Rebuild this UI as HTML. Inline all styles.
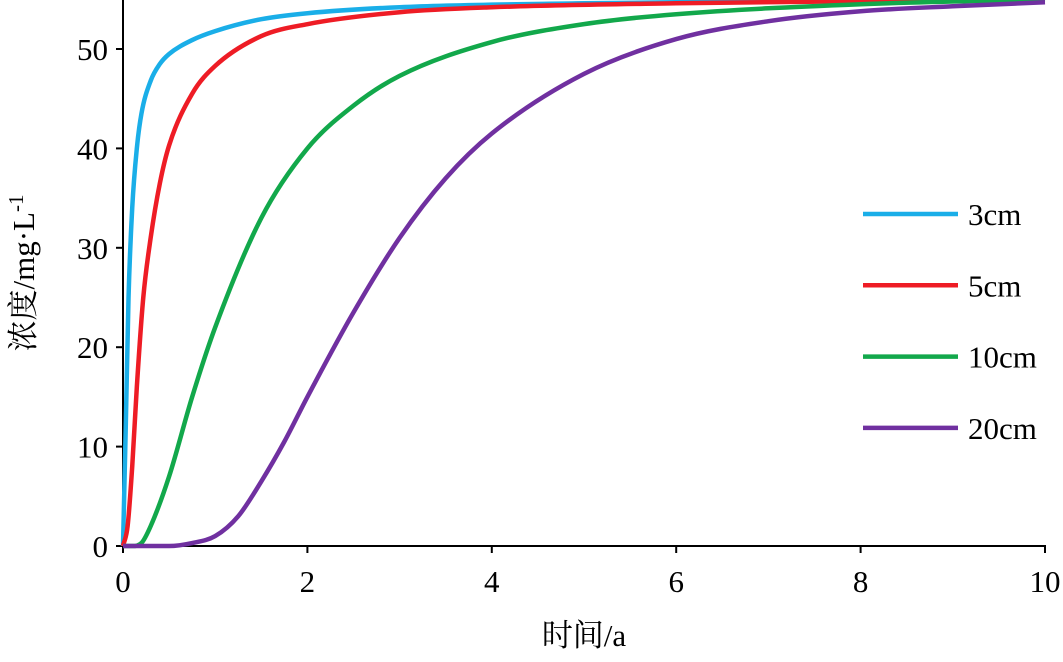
<!DOCTYPE html>
<html><head><meta charset="utf-8">
<style>
body{margin:0;background:#fff;}
svg text{font-family:"Liberation Serif","Noto Serif CJK SC",serif;fill:#000;}
</style></head>
<body>
<svg id="chart" width="1063" height="657" viewBox="0 0 1063 657" xmlns="http://www.w3.org/2000/svg">
<g id="axes"></g>
<g id="series"></g>
<g id="legend"></g>
<text x="584" y="646" text-anchor="middle" font-size="31">时间/a</text>
<text transform="translate(34,273) rotate(-90)" text-anchor="middle" font-size="31">浓度/mg·L<tspan dy="-11" font-size="21">-1</tspan></text>
</svg>
<script>
const xTicks=[0,2,4,6,8,10];
const yTicks=[0,10,20,30,40,50];
const seriesNames=["3cm","5cm","10cm","20cm"];
const seriesColors=["#1aaee8","#ee1c25","#12a84b","#7030a0"];
const t3=[0,0.03,0.06,0.1,0.15,0.2,0.3,0.4,0.5,0.75,1,1.5,2,3,5,7,10];
const v3=[0,12,25,34,40,43.5,46.8,48.5,49.5,50.9,51.8,53,53.6,54.2,54.6,54.8,55];
const t5=[0,0.05,0.1,0.15,0.22,0.3,0.4,0.5,0.75,1,1.5,2,3,4,6,10];
const v5=[0,2,8,16,25,31,36.5,40.3,45.5,48.3,51.3,52.5,53.7,54.2,54.6,55];
const t10=[0,0.1,0.2,0.3,0.5,0.75,1,1.5,2,2.5,3,4,5,6,8,10];
const v10=[0,0,0.3,2,7,15,22,33,40,44.3,47.3,50.7,52.5,53.5,54.5,55];
const t20=[0,0.5,0.75,1,1.25,1.5,1.75,2,2.5,3,3.5,4,5,6,7,8,9,10];
const v20=[0,0,0.3,1,3,6.5,10.5,15,23.5,31,37,41.5,47.5,51,52.8,53.8,54.3,54.7];
const seriesT=[t3,t5,t10,t20];
const seriesV=[v3,v5,v10,v20];

const NS="http://www.w3.org/2000/svg";
const X=v=>123+v*92.2;
const Y=v=>546-v*9.94;
function mk(tag,attrs,parent){const e=document.createElementNS(NS,tag);for(const k in attrs)e.setAttribute(k,attrs[k]);parent.appendChild(e);return e;}
const axes=document.getElementById('axes');
let e=mk('line',{x1:123,y1:0,x2:123,y2:547,stroke:'#000','stroke-width':2},axes);


e=mk('line',{x1:122,y1:546,x2:1046,y2:546,stroke:'#000','stroke-width':2},axes);


xTicks.forEach(v=>{
 let t=mk('line',{x1:X(v),y1:546,x2:X(v),y2:553,stroke:'#000','stroke-width':2},axes);
 
 
 let l=mk('text',{x:X(v),y:592,'text-anchor':'middle','font-size':31},axes);l.textContent=v;
 
 
});
yTicks.forEach(v=>{
 let t=mk('line',{x1:116,y1:Y(v),x2:123,y2:Y(v),stroke:'#000','stroke-width':2},axes);
 
 
 let l=mk('text',{x:108,y:Y(v)+11,'text-anchor':'end','font-size':31},axes);l.textContent=v;
 
 
});
function monotonePath(xs,ys){
 const n=xs.length,d=[],m=[];
 for(let i=0;i<n-1;i++)d.push((ys[i+1]-ys[i])/(xs[i+1]-xs[i]));
 m[0]=d[0];m[n-1]=d[n-2];
 for(let i=1;i<n-1;i++){m[i]=(d[i-1]*d[i]<=0)?0:(d[i-1]+d[i])/2;}
 for(let i=0;i<n-1;i++){if(d[i]===0){m[i]=0;m[i+1]=0;continue;}const a=m[i]/d[i],b=m[i+1]/d[i],s=a*a+b*b;if(s>9){const tau=3/Math.sqrt(s);m[i]=tau*a*d[i];m[i+1]=tau*b*d[i];}}
 let p=`M${xs[0]},${ys[0]}`;
 for(let i=0;i<n-1;i++){const h=(xs[i+1]-xs[i])/3;p+=` C${xs[i]+h},${ys[i]+m[i]*h} ${xs[i+1]-h},${ys[i+1]-m[i+1]*h} ${xs[i+1]},${ys[i+1]}`;}
 return p;
}
const sg=document.getElementById('series');
const lg=document.getElementById('legend');
seriesNames.forEach((nm,i)=>{
 const xs=seriesT[i].map(X),ys=seriesV[i].map(Y);
 let p=mk('path',{d:monotonePath(xs,ys),fill:'none',stroke:seriesColors[i],'stroke-width':4.5,'stroke-linejoin':'round'},sg);
 
 
 const ly=214+i*71.3;
 let ll=mk('line',{x1:863,y1:ly,x2:958,y2:ly,stroke:seriesColors[i],'stroke-width':4.5},lg);
 
 
 let lt=mk('text',{x:968,y:ly+11,'font-size':31},lg);lt.textContent=nm;
 
 
});
</script>
</body></html>
